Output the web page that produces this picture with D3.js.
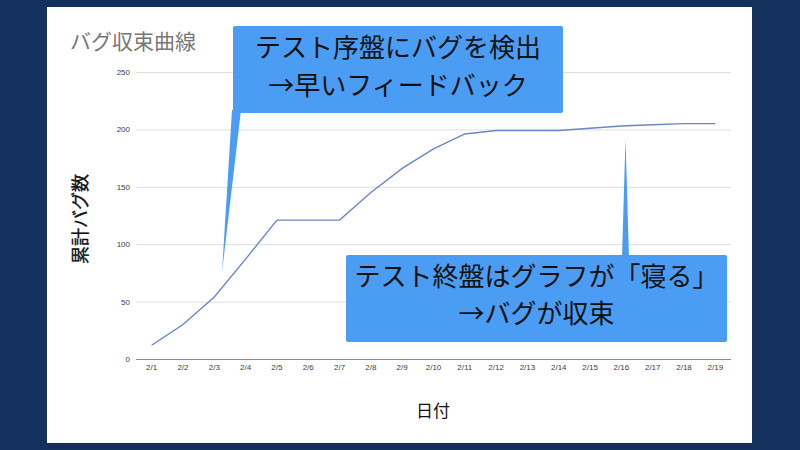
<!DOCTYPE html>
<html>
<head>
<meta charset="utf-8">
<script src="https://cdn.jsdelivr.net/npm/d3@7"></script>
<style>
  html, body { margin: 0; padding: 0; background: #13315c; }
  svg { display: block; }
  text { font-family: "Noto Sans CJK JP", "Noto Sans", sans-serif; }
</style>
</head>
<body>
<svg id="chart" width="800" height="450"></svg>
<script>
// Data
const dates = ["2/1", "2/2", "2/3", "2/4", "2/5", "2/6", "2/7", "2/8", "2/9", "2/10",
               "2/11", "2/12", "2/13", "2/14", "2/15", "2/16", "2/17", "2/18", "2/19"];
const cumulativeBugs = [12, 30, 54, 87, 121, 121, 121, 145, 166, 183,
                        196, 199, 199, 199, 201, 203, 204, 205, 205];
const yTicks = [0, 50, 100, 150, 200, 250];

const title = "バグ収束曲線";
const yTitle = "累計バグ数";
const xTitle = "日付";
const noteEarly = ["テスト序盤にバグを検出", "→早いフィードバック"];
const noteLate = ["テスト終盤はグラフが「寝る」", "→バグが収束"];

const svg = d3.select("#chart");

// White card on the navy slide
svg.append("rect")
    .attr("x", 47).attr("y", 7)
    .attr("width", 705).attr("height", 436)
    .attr("fill", "#ffffff");

const plot = { left: 136, right: 731, top: 72, bottom: 359 };

const x = d3.scaleBand()
    .domain(dates)
    .range([plot.left, plot.right]);

const y = d3.scaleLinear()
    .domain([0, 250])
    .range([plot.bottom, plot.top]);

// Grid lines + y tick labels
const yAxis = svg.append("g")
    .attr("transform", `translate(${plot.left},0)`)
    .call(d3.axisLeft(y).tickValues(yTicks).tickSize(-(plot.right - plot.left)).tickPadding(6));
yAxis.select(".domain").remove();
yAxis.selectAll(".tick line")
    .attr("stroke", (d) => d === 0 ? "#8a8a8a" : "#dedede")
    .attr("stroke-width", (d) => d === 0 ? 1.2 : 1);
yAxis.selectAll(".tick text")
    .attr("fill", "#3c3c3c")
    .style("font-family", "Arial, 'Liberation Sans', sans-serif")
    .style("font-size", "8px");

// x tick labels
const xAxis = svg.append("g")
    .attr("transform", `translate(0,${plot.bottom})`)
    .call(d3.axisBottom(x).tickSize(0).tickPadding(5));
xAxis.select(".domain").remove();
xAxis.selectAll(".tick text")
    .attr("fill", "#3c3c3c")
    .style("font-family", "Arial, 'Liberation Sans', sans-serif")
    .style("font-size", "8px");

// Data line
const line = d3.line()
    .x((d, i) => x(dates[i]) + x.bandwidth() / 2)
    .y((d) => y(d));

svg.append("path")
    .datum(cumulativeBugs)
    .attr("fill", "none")
    .attr("stroke", "#6a86c6")
    .attr("stroke-width", 1.4)
    .attr("d", line);

// Titles
svg.append("text")
    .attr("x", 70).attr("y", 49)
    .attr("fill", "#777")
    .style("font-size", "21px")
    .text(title);

svg.append("text")
    .attr("transform", "translate(87,219) rotate(-90)")
    .attr("text-anchor", "middle")
    .attr("fill", "#111")
    .attr("stroke", "#111")
    .attr("stroke-width", 0.35)
    .style("font-size", "18px")
    .text(yTitle);

svg.append("text")
    .attr("x", 433).attr("y", 417)
    .attr("text-anchor", "middle")
    .attr("fill", "#111")
    .style("font-size", "17px")
    .text(xTitle);

// Callouts
const calloutBlue = "#4a9df2";

function callout(box, pointer, lines, lineYs) {
    const g = svg.append("g");
    g.append("path")
        .attr("d", d3.line()(pointer) + "Z")
        .attr("fill", calloutBlue);
    g.append("rect")
        .attr("x", box.x).attr("y", box.y)
        .attr("width", box.w).attr("height", box.h)
        .attr("rx", 2)
        .attr("fill", calloutBlue);
    g.selectAll("text")
        .data(lines)
        .join("text")
        .attr("x", box.x + box.w / 2)
        .attr("y", (d, i) => lineYs[i])
        .attr("text-anchor", "middle")
        .attr("dominant-baseline", "central")
        .attr("fill", "#111")
        .style("font-size", "26px")
        .text((d) => d);
}

callout({ x: 233, y: 26, w: 330, h: 87 },
        [[232, 110], [241, 110], [222, 272]],
        noteEarly, [45, 83]);

callout({ x: 346, y: 255, w: 381, h: 87 },
        [[622, 258], [629, 258], [625.5, 139]],
        noteLate, [274, 311]);
</script>
</body>
</html>
